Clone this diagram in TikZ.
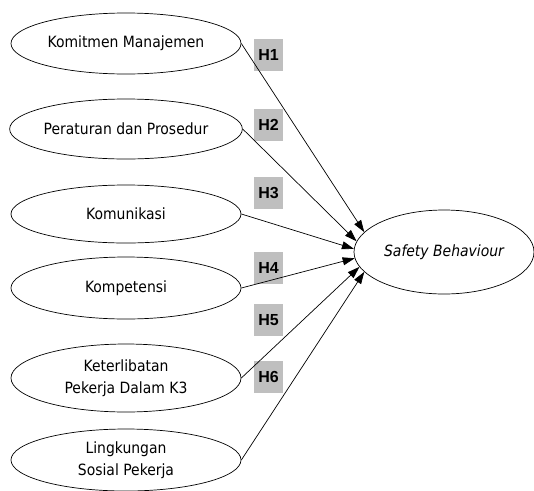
\documentclass[tikz,border=0pt]{standalone}
\usepackage{fontspec}
\setmainfont{DejaVu Sans Condensed}
\newfontfamily\hfont{Liberation Sans}
\usetikzlibrary{arrows.meta,shapes.geometric}
\begin{document}
\begin{tikzpicture}[x=1pt,y=-1pt,
  var/.style={draw,ellipse,line width=0.7pt,minimum width=230pt,align=center,inner sep=0pt,
    font=\fontsize{15.5}{21.5}\selectfont},
  hlab/.style={fill=black!25,minimum width=29pt,minimum height=32pt,inner sep=0pt,
    font=\hfont\bfseries\fontsize{16}{18}\selectfont},
  conn/.style={line width=0.7pt,-{Triangle[length=12pt,width=8pt]}}]
\useasboundingbox (0,0) rectangle (534,490);
\node[var,minimum height=61pt] (e1) at (126,43.5) {Komitmen Manajemen};
\node[var,minimum height=60pt] (e2) at (126,129) {Peraturan dan Prosedur};
\node[var,minimum height=58pt] (e3) at (126,214) {Komunikasi};
\node[var,minimum height=62pt] (e4) at (126,288) {Kompetensi};
\node[var,minimum height=68pt] (e5) at (126,378) {Keterlibatan\\Pekerja Dalam K3};
\node[var,minimum height=62pt] (e6) at (126,460) {Lingkungan\\Sosial Pekerja};
\node[draw,ellipse,line width=0.7pt,minimum width=180pt,minimum height=84pt,inner sep=0pt,
  font=\fontsize{15.5}{18}\selectfont\itshape] (sb) at (444,252) {Safety Behaviour};
\node[hlab] (h1) at (268.5,55) {H1};
\node[hlab] (h2) at (268.5,125) {H2};
\node[hlab] (h3) at (268.5,193) {H3};
\node[hlab] (h4) at (268.5,268) {H4};
\node[hlab] (h5) at (268.5,320) {H5};
\node[hlab] (h6) at (268.5,377) {H6};
\draw[conn] (e1.east) -- (sb.166);
\draw[conn] (e2.east) -- (sb.173.5);
\draw[conn] (e3.east) -- (sb.178.7);
\draw[conn] (e4.east) -- (sb.184);
\draw[conn] (e5.east) -- (sb.190);
\draw[conn] (e6.east) -- (sb.194.5);
\end{tikzpicture}
\end{document}
